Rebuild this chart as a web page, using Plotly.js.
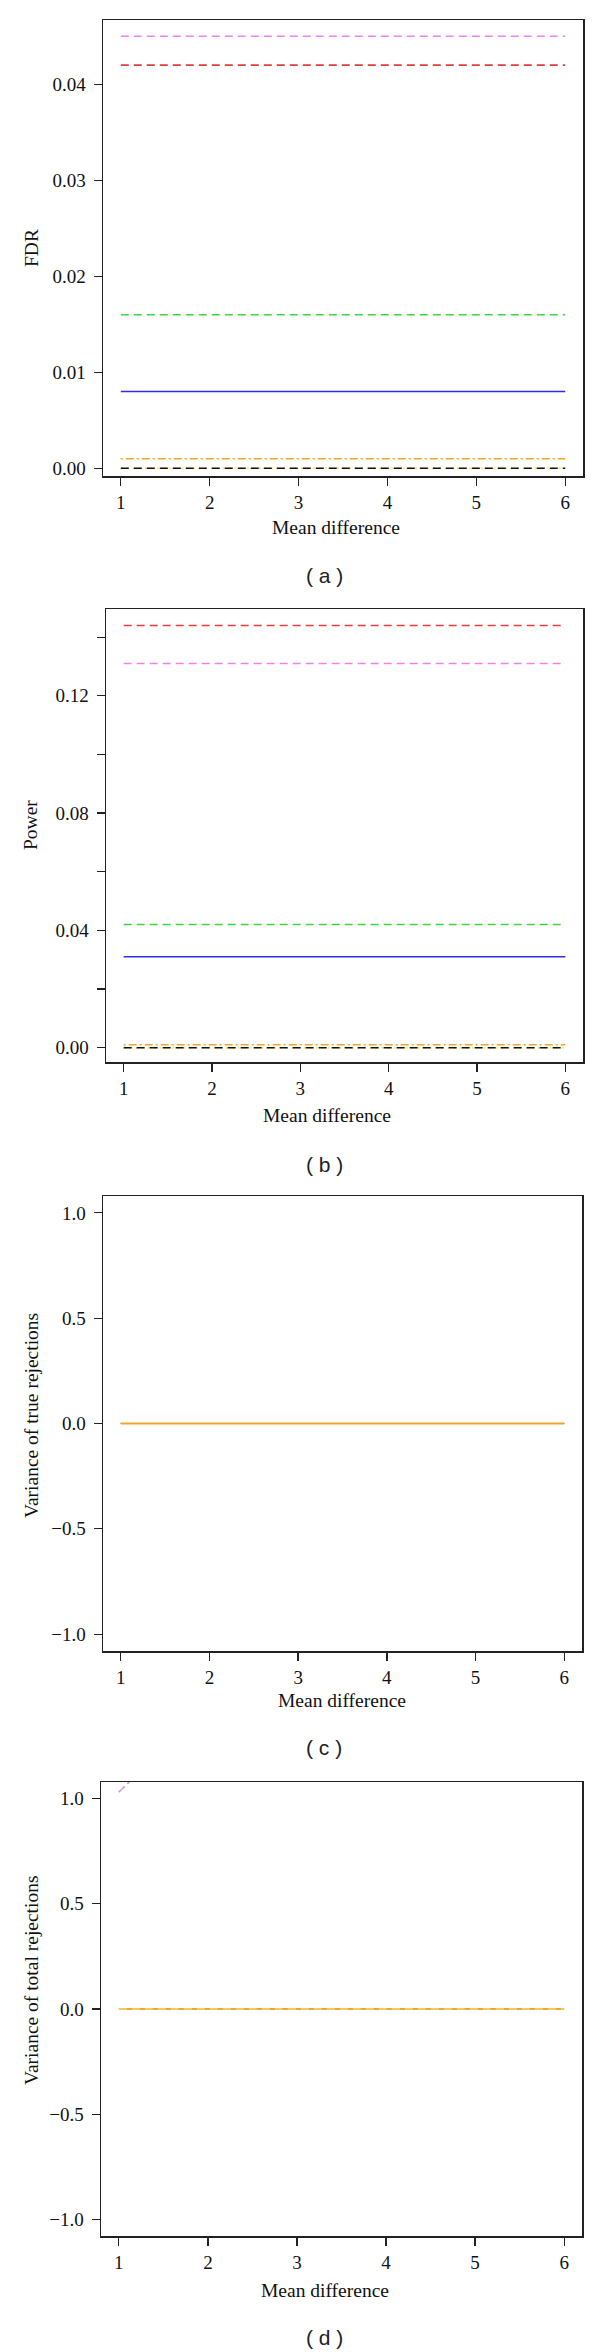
<!DOCTYPE html>
<html>
<head>
<meta charset="utf-8">
<script src="https://cdn.plot.ly/plotly-3.0.1.min.js"></script>
<style>
  html, body { margin: 0; padding: 0; background: #fff; }
  #chart { width: 600px; height: 2352px; }
</style>
</head>
<body>
<div id="chart"></div>
<script>
// x values shared by every panel
const meanDiff = [1, 2, 3, 4, 5, 6];

// (a) FDR
const fdrViolet = [0.045, 0.045, 0.045, 0.045, 0.045, 0.045];
const fdrRed    = [0.042, 0.042, 0.042, 0.042, 0.042, 0.042];
const fdrGreen  = [0.016, 0.016, 0.016, 0.016, 0.016, 0.016];
const fdrBlue   = [0.008, 0.008, 0.008, 0.008, 0.008, 0.008];
const fdrOrange = [0.001, 0.001, 0.001, 0.001, 0.001, 0.001];
const fdrYellow = [0, 0, 0, 0, 0, 0];
const fdrBlack  = [0, 0, 0, 0, 0, 0];

// (b) Power
const powRed    = [0.144, 0.144, 0.144, 0.144, 0.144, 0.144];
const powViolet = [0.131, 0.131, 0.131, 0.131, 0.131, 0.131];
const powGreen  = [0.042, 0.042, 0.042, 0.042, 0.042, 0.042];
const powBlue   = [0.031, 0.031, 0.031, 0.031, 0.031, 0.031];
const powOrange = [0.001, 0.001, 0.001, 0.001, 0.001, 0.001];
const powYellow = [0, 0, 0, 0, 0, 0];
const powBlack  = [0, 0, 0, 0, 0, 0];

// (c) variance of true rejections - everything sits on zero
const vtrOthers = [0, 0, 0, 0, 0, 0];
const vtrOrange = [0, 0, 0, 0, 0, 0];

// (d) variance of total rejections
const vtoViolet = [1.03, 1.44, 1.9, 2.4, 2.9, 3.4];   // leaves the plot right after x = 1
const vtoGreen  = [1.03, 1.44, 1.9, 2.4, 2.9, 3.4];
const vtoOrange = [0, 0, 0, 0, 0, 0];
const vtoYellow = [0, 0, 0, 0, 0, 0];

const yTitles = ["FDR", "Power", "Variance of true rejections", "Variance of total rejections"];
const panelLabels = ["( a )", "( b )", "( c )", "( d )"];
const xTickVals = [1, 2, 3, 4, 5, 6];

const W = 600, H = 2352;
const SERIF = "'Liberation Serif', 'Times New Roman', serif";
const SANS = "'Liberation Sans', Arial, sans-serif";

const COL = {
  violet: "#ee82ee",
  red: "#d9403f",
  red2: "#ee3b3b",
  green: "#3ed63e",
  blue: "#2e2ee6",
  orange: "#f2a52a",
  yellow: "#f4ee60",
  black: "#111111"
};

const DASH = "8px,5px";
const DOTDASH = "2px,3px,8px,3px";
const DOT = "2px,4px";

// plot boxes in page pixels: left, right, top, bottom
const boxes = [
  [103, 583, 20, 476],
  [106, 583, 609, 1062],
  [103, 582, 1196, 1651],
  [101, 582, 1782, 2236]
];
const yRanges = [[-0.0008, 0.0467], [-0.0049, 0.1496], [-1.08, 1.08], [-1.078, 1.078]];

function line(panel, y, color, dash, width, name) {
  return {
    x: meanDiff, y: y, name: name, mode: "lines",
    line: { color: color, dash: dash, width: width },
    xaxis: "x" + (panel === 1 ? "" : panel),
    yaxis: "y" + (panel === 1 ? "" : panel),
    showlegend: false, hoverinfo: "skip"
  };
}

const traces = [
  line(1, fdrYellow, COL.yellow, DOT, 2, "yellow"),
  line(1, fdrBlack, COL.black, DASH, 1.5, "black"),
  line(1, fdrOrange, COL.orange, DOTDASH, 1.5, "orange"),
  line(1, fdrBlue, COL.blue, "solid", 1.3, "blue"),
  line(1, fdrGreen, COL.green, DASH, 1.5, "green"),
  line(1, fdrRed, COL.red, DASH, 1.7, "red"),
  line(1, fdrViolet, COL.violet, DASH, 1.5, "violet"),

  line(2, powYellow, COL.yellow, DOT, 2, "yellow"),
  line(2, powBlack, COL.black, DASH, 1.5, "black"),
  line(2, powOrange, COL.orange, DOTDASH, 1.5, "orange"),
  line(2, powBlue, COL.blue, "solid", 1.6, "blue"),
  line(2, powGreen, COL.green, DASH, 1.7, "green"),
  line(2, powRed, COL.red2, DASH, 1.5, "red"),
  line(2, powViolet, COL.violet, DASH, 1.5, "violet"),

  line(3, vtrOthers, COL.black, DASH, 1.2, "others"),
  line(3, vtrOrange, COL.orange, "solid", 2, "orange"),

  line(4, vtoGreen, COL.green, DOT, 1.3, "green"),
  line(4, vtoViolet, COL.violet, DASH, 1.3, "violet"),
  line(4, vtoOrange, COL.orange, "solid", 2, "orange"),
  line(4, vtoYellow, "#ffe9a0", DASH, 1, "yellow")
];

const layout = {
  width: W, height: H,
  margin: { l: 0, r: 0, t: 0, b: 0 },
  paper_bgcolor: "#fff", plot_bgcolor: "#fff",
  showlegend: false,
  font: { family: SERIF, size: 19, color: "#111" },
  annotations: []
};

function yTicks(i) {
  if (i === 0) return { vals: [0, 0.01, 0.02, 0.03, 0.04], text: ["0.00", "0.01", "0.02", "0.03", "0.04"] };
  if (i === 1) return {
    vals: [0, 0.02, 0.04, 0.06, 0.08, 0.10, 0.12, 0.14],
    text: ["0.00", "", "0.04", "", "0.08", "", "0.12", ""]
  };
  return { vals: [-1, -0.5, 0, 0.5, 1], text: ["\u22121.0", "\u22120.5", "0.0", "0.5", "1.0"] };
}

const xTitlePos = [[336, 527], [327, 1115], [342, 1700], [325, 2290]];
const yTitlePos = [[31, 248], [31, 825], [31, 1416], [31, 1980]];
const labelPos = [[324, 575], [324, 1164], [324, 1747], [324, 2337]];

boxes.forEach((b, i) => {
  const sfx = i === 0 ? "" : String(i + 1);
  const common = {
    showline: true, mirror: true, linecolor: "#222", linewidth: 1.5,
    ticks: "outside", ticklen: 8, tickwidth: 1.3, tickcolor: "#222",
    showgrid: false, zeroline: false, fixedrange: true,
    tickfont: { family: SERIF, size: 19, color: "#111" }
  };
  layout["xaxis" + sfx] = Object.assign({}, common, {
    domain: [b[0] / W, b[1] / W],
    anchor: "y" + sfx,
    range: [0.8, 6.2],
    tickmode: "array", tickvals: xTickVals, ticktext: xTickVals.map(String),
    ticklabelstandoff: 1
  });
  const yt = yTicks(i);
  layout["yaxis" + sfx] = Object.assign({}, common, {
    domain: [1 - b[3] / H, 1 - b[2] / H],
    anchor: "x" + sfx,
    range: yRanges[i],
    tickmode: "array", tickvals: yt.vals, ticktext: yt.text,
    ticklabelstandoff: 4
  });

  layout.annotations.push({
    xref: "paper", yref: "paper", x: xTitlePos[i][0] / W, y: 1 - xTitlePos[i][1] / H,
    xanchor: "center", yanchor: "middle", showarrow: false,
    text: "Mean difference", font: { family: SERIF, size: 19.5, color: "#111" }
  });
  layout.annotations.push({
    xref: "paper", yref: "paper", x: yTitlePos[i][0] / W, y: 1 - yTitlePos[i][1] / H,
    xanchor: "center", yanchor: "middle", showarrow: false, textangle: -90,
    text: yTitles[i], font: { family: SERIF, size: 19.5, color: "#111" }
  });
  layout.annotations.push({
    xref: "paper", yref: "paper", x: labelPos[i][0] / W, y: 1 - labelPos[i][1] / H,
    xanchor: "center", yanchor: "middle", showarrow: false,
    text: panelLabels[i], font: { family: SANS, size: 21, color: "#222" }
  });
});

Plotly.newPlot("chart", traces, layout, { staticPlot: true, displayModeBar: false });
</script>
</body>
</html>
